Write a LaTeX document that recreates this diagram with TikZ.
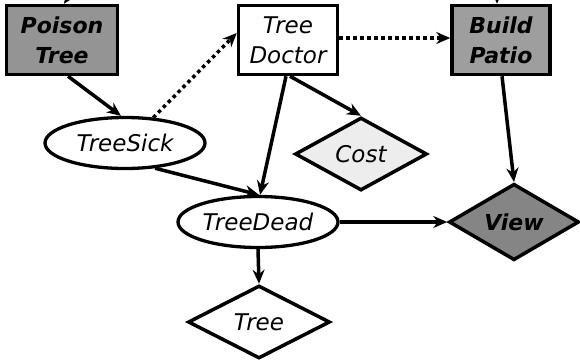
\documentclass[tikz,border=0pt]{standalone}
\usepackage{fontspec}
\setmainfont{DejaVu Sans}
\usetikzlibrary{shapes.geometric,arrows.meta}
\tikzset{
  lbl/.style={font=\fontsize{23}{30}\selectfont\itshape, align=center},
  lblb/.style={font=\fontsize{22}{30}\selectfont\bfseries\itshape, align=center},
  boxnode/.style={draw=black, line width=3.5pt, rectangle, inner sep=0pt, minimum width=111pt, minimum height=69pt},
  ellnode/.style={draw=black, line width=3.3pt, ellipse, inner sep=0pt, minimum width=160pt, minimum height=51pt, fill=white},
  dianode/.style={draw=black, line width=3.5pt, diamond, inner sep=0pt},
  conn/.style={line width=3.5pt, -{Stealth[length=14pt,width=12pt]}},
  dotconn/.style={line width=3.5pt, dash pattern=on 3.5pt off 3.5pt, -{Stealth[length=14pt,width=12pt]}},
}
\begin{document}
\begin{tikzpicture}[x=1pt,y=-1pt]
\useasboundingbox (0,0) rectangle (580,359);
\node[boxnode, fill=black!42, lblb] (pt) at (62,40) {Poison\\Tree};
\node[boxnode, fill=white, minimum width=99pt, lbl] (td) at (288,40) {Tree\\Doctor};
\node[boxnode, fill=black!38, minimum width=98pt, lblb] (bp) at (501,40) {Build\\Patio};
\node[ellnode, lbl] (ts) at (125,143) {TreeSick};
\node[ellnode, lbl] (tdd) at (258,222) {TreeDead};
\node[dianode, fill=black!7, minimum width=132pt, minimum height=73pt, lbl] (cost) at (361,154) {Cost};
\node[dianode, fill=black!48, minimum width=130pt, minimum height=75pt, lblb] (view) at (514,222) {View};
\node[dianode, fill=white, minimum width=142pt, minimum height=73pt, lbl] (tree) at (259,322) {Tree};
\coordinate (topa) at (80,-20);
\coordinate (topb) at (497,-20);
\draw[dotconn] (topa) -- ([xshift=2pt]pt.north);
\draw[conn] (topb) -- ([xshift=-4pt]bp.north);
\draw[conn] ([xshift=6pt]pt.south) -- ([xshift=-4pt]ts.north);
\draw[dotconn] (ts.42) -- ([yshift=7pt]td.west);
\draw[dotconn] ([yshift=2pt]td.east) -- ([yshift=2pt]bp.west);
\draw[conn] ([xshift=2pt]td.south) -- (cost.north);
\draw[conn] ([xshift=-2pt]td.south) -- ([xshift=2pt]tdd.north);
\draw[conn] (ts.-40) -- ([xshift=1pt]tdd.north);
\draw[conn] ([xshift=1pt]bp.south) -- (view.north);
\draw[conn] (tdd.east) -- (view.west);
\draw[conn] (tdd.south) -- (tree.north);
\end{tikzpicture}
\end{document}
